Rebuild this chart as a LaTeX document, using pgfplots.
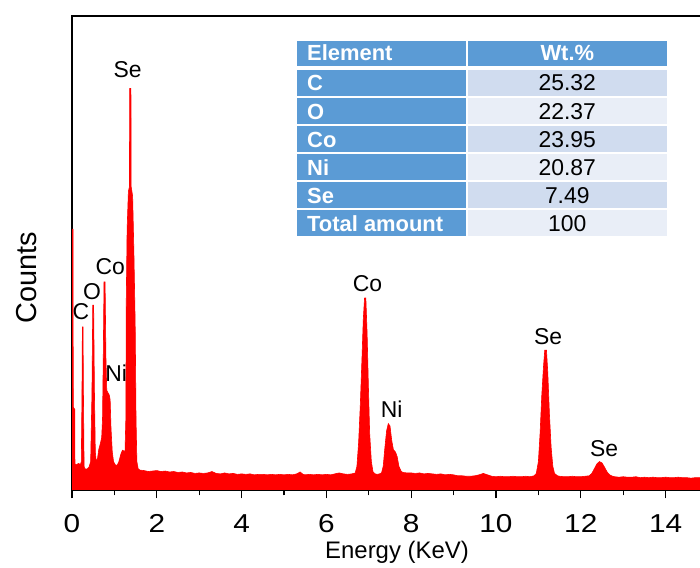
\documentclass[border=0pt]{standalone}
\usepackage{pgfplots}
\pgfplotsset{compat=1.18}
\usepackage{fontspec}
\setmainfont{Liberation Sans}

\definecolor{hdrblue}{RGB}{91,155,213}
\definecolor{bandA}{RGB}{208,220,239}
\definecolor{bandB}{RGB}{233,238,247}

\newcommand{\fs}[1]{\fontsize{#1}{#1}\selectfont}

\begin{document}
\begin{tikzpicture}
\begin{axis}[
  scale only axis,
  width=636bp, height=474bp,
  xmin=0, xmax=15, ymin=0, ymax=100,
  ytick=\empty,
  xtick={0,2,...,14},
  minor xtick={1,3,...,15},
  xtick pos=bottom,
  tick align=outside,
  major tick length=8.5bp,
  minor tick length=5.5bp,
  axis line style={line width=1.2bp},
  every tick/.style={black, line width=1.2bp},
  xticklabel style={font=\fs{26}, xscale=1.15, anchor=base, yshift=-34bp},
  /pgf/number format/assume math mode=true,
  clip=true,
]
% EDS spectrum (counts, arbitrary units)
\addplot[fill=red, draw=red, line width=0.6bp] coordinates {
(0,55) (0.025,55) (0.03,17.5) (0.065,17) (0.07,5.5) (0.1,5.3) (0.15,5.6) (0.2,5.4)
(0.22,6) (0.235,20) (0.245,34.4) (0.26,34.4) (0.27,20) (0.285,5) (0.3,4.5) (0.35,4.4)
(0.4,4.8) (0.44,6) (0.47,20) (0.49,39) (0.51,39) (0.53,20) (0.55,8) (0.57,6.2)
(0.6,6.5) (0.63,8.5) (0.66,9.5) (0.7,11) (0.72,15) (0.74,30) (0.755,43.9) (0.78,43.9)
(0.8,28) (0.82,21) (0.85,20.5) (0.88,20) (0.9,19) (0.92,13) (0.95,8) (0.98,6)
(1.02,5.3) (1.06,5.2) (1.1,5.8) (1.15,7.5) (1.19,8.4) (1.23,8.2) (1.25,8) (1.27,15)
(1.28,40) (1.30,55) (1.33,63) (1.355,64) (1.36,84.7) (1.39,84.7) (1.395,64) (1.43,62)
(1.46,50) (1.49,35) (1.51,15) (1.53,6) (1.56,4.5) (1.6,4.2) (1.7,4.1) (1.8,3.9)
(1.9,4.0) (2.0,4.1) (2.1,3.9) (2.2,4.0) (2.3,3.8) (2.4,3.9) (2.5,3.7) (2.6,3.8)
(2.7,3.6) (2.8,3.7) (2.9,3.5) (3.0,3.6) (3.1,3.5) (3.2,3.6) (3.3,3.9) (3.4,3.5)
(3.5,3.4) (3.6,3.6) (3.7,3.4) (3.8,3.5) (3.9,3.3) (4.0,3.4) (4.1,3.3) (4.2,3.4)
(4.3,3.2) (4.4,3.3) (4.5,3.3) (4.6,3.2) (4.7,3.3) (4.8,3.2) (4.9,3.3) (5.0,3.2)
(5.1,3.3) (5.2,3.2) (5.3,3.4) (5.38,3.8) (5.45,3.3) (5.5,3.2) (5.6,3.3) (5.7,3.2)
(5.8,3.3) (5.9,3.2) (6.0,3.3) (6.1,3.2) (6.2,3.4) (6.3,3.6) (6.4,3.4) (6.5,3.3)
(6.6,3.4) (6.68,3.6) (6.72,5) (6.76,10) (6.8,18) (6.84,28) (6.87,36) (6.9,40.5)
(6.93,40.5) (6.96,33) (6.99,22) (7.02,12) (7.06,6) (7.1,3.8) (7.15,3.4) (7.2,3.3)
(7.25,3.4) (7.3,3.6) (7.34,5) (7.38,9) (7.42,12.5) (7.46,14) (7.5,13.5) (7.54,10.5)
(7.58,8.5) (7.63,8) (7.67,7) (7.71,5) (7.76,4.0) (7.8,3.7) (7.9,3.6) (8.0,3.6)
(8.1,3.5) (8.2,3.6) (8.3,3.4) (8.4,3.5) (8.5,3.4) (8.6,3.3) (8.7,3.4) (8.8,3.2)
(8.9,3.3) (9.0,3.2) (9.1,3.0) (9.2,3.0) (9.3,2.9) (9.4,2.9) (9.5,3.0) (9.6,3.2)
(9.7,3.5) (9.8,3.2) (9.9,2.9) (10.0,2.8) (10.1,2.9) (10.2,2.8) (10.3,2.8) (10.4,2.9)
(10.5,2.8) (10.6,2.8) (10.7,2.9) (10.8,2.8) (10.9,3.0) (10.95,3.5) (11.0,6) (11.04,12)
(11.08,20) (11.12,26) (11.15,29.5) (11.19,29.5) (11.22,25) (11.26,16) (11.3,9) (11.34,5)
(11.38,3.5) (11.45,3.0) (11.5,2.9) (11.6,2.8) (11.7,2.8) (11.8,2.9) (11.9,2.8) (12.0,2.8)
(12.1,2.9) (12.2,3.0) (12.26,3.5) (12.32,4.5) (12.38,5.5) (12.44,6.0) (12.5,5.7) (12.56,4.8)
(12.62,3.8) (12.68,3.2) (12.75,2.9) (12.8,2.8) (12.9,2.7) (13.0,2.8) (13.1,2.7) (13.2,2.7)
(13.3,2.8) (13.4,2.6) (13.5,2.7) (13.6,2.6) (13.7,2.7) (13.8,2.6) (13.9,2.6) (14.0,2.7)
(14.1,2.6) (14.2,2.6) (14.3,2.7) (14.4,2.6) (14.5,2.6) (14.6,2.5) (14.7,2.6) (14.8,2.6)
(14.9,2.5) (15.0,2.6)
} \closedcycle;

% peak assignments
\begin{scope}[every node/.style={anchor=base, font=\fs{23}, inner sep=0pt}]
\node at (axis cs:1.31,87.1) {Se};
\node at (axis cs:0.21,35.9) {C};
\node at (axis cs:0.47,40.1) {O};
\node at (axis cs:0.90,45.4) {Co};
\node at (axis cs:1.04,22.8) {Ni};
\node at (axis cs:6.97,41.8) {Co};
\node at (axis cs:7.54,15.2) {Ni};
\node at (axis cs:11.23,30.6) {Se};
\node at (axis cs:12.55,7.0) {Se};
\end{scope}
\end{axis}

% axis titles
\node[rotate=90, anchor=base, inner sep=0pt, font=\fs{29}] at (-36bp,212bp) {Counts};
\node[anchor=base, inner sep=0pt, font=\fs{24}] at (325bp,-68bp) {Energy (KeV)};

% composition table
\begin{scope}[x=1bp, y=1bp]
  \def\cl{225} \def\cm{394} \def\cmr{396.3} \def\cr{594.7}
  % header
  \fill[hdrblue] (\cl,449) rectangle (\cm,424);
  \fill[hdrblue] (\cmr,449) rectangle (\cr,424);
  \node[anchor=base west, inner sep=0pt, text=white, font=\bfseries\fs{22}] at (\cl+10,429) {Element};
  \node[anchor=base, inner sep=0pt, text=white, font=\bfseries\fs{22}] at (495.3,429) {Wt.\%};
  % rows: top y, label, value, band colour
  \foreach \t/\el/\val/\band in {419.5/C/25.32/bandA, 391.5/O/22.37/bandB, 363.5/Co/23.95/bandA,
                                  335.5/Ni/20.87/bandB, 307.5/Se/7.49/bandA, 279.5/Total amount/100/bandB}{
    \fill[hdrblue] (\cl,\t) rectangle (\cm,\t-25.7);
    \fill[\band] (\cmr,\t) rectangle (\cr,\t-25.7);
    \node[anchor=base west, inner sep=0pt, text=white, font=\bfseries\fs{22}] at (\cl+10,\t-20.5) {\el};
    \node[anchor=base, inner sep=0pt, font=\fs{23}] at (495.3,\t-20.5) {\val};
  }
\end{scope}

\pgfresetboundingbox
\useasboundingbox (-72bp,-78bp) rectangle (628bp,490bp);
\end{tikzpicture}
\end{document}
